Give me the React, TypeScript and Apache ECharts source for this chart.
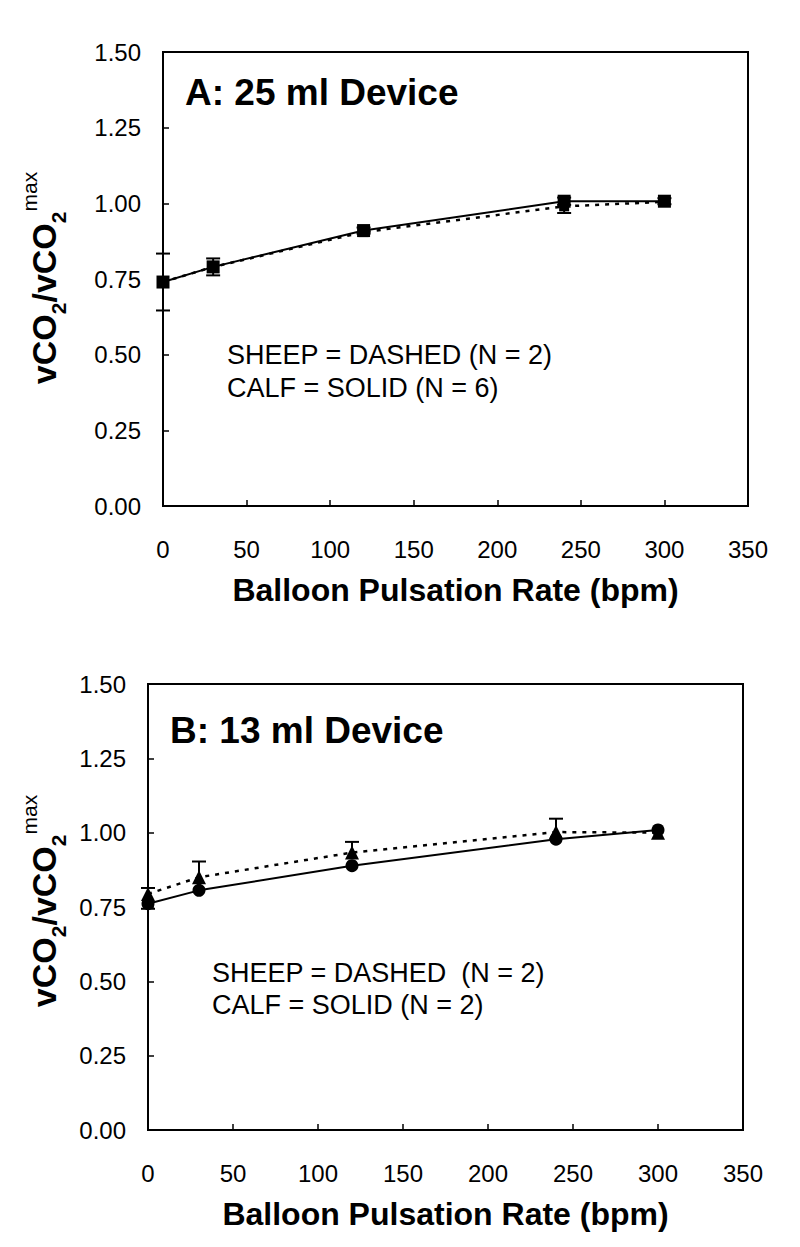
import React, { useEffect, useRef } from "react";
import * as echarts from "echarts";

// ---- data ----
const rates = [0, 30, 120, 240, 300];

// Panel A: 25 ml device
const aCalf = [0.74, 0.79, 0.91, 1.007, 1.007];
const aCalfErrLow = [0.094, 0.028, 0.01, 0.012, 0.01];
const aCalfErrHigh = [0.094, 0.028, 0.01, 0.012, 0.01];
const aSheep = [0.74, 0.79, 0.905, 0.99, 1.005];
const aSheepErrLow = [0, 0, 0, 0.022, 0];
const aSheepErrHigh = [0, 0, 0, 0, 0];

// Panel B: 13 ml device
const bCalf = [0.761, 0.806, 0.889, 0.978, 1.009];
const bCalfErrLow = [0.017, 0, 0, 0, 0];
const bCalfErrHigh = [0, 0, 0, 0, 0];
const bSheep = [0.794, 0.85, 0.933, 1.002, 1.0];
const bSheepErrLow = [0, 0, 0, 0, 0];
const bSheepErrHigh = [0.02, 0.053, 0.036, 0.045, 0];

const xMin = 0, xMax = 350, xStep = 50;
const yMin = 0, yMax = 1.5, yStep = 0.25;

const FONT = "'Liberation Sans', Arial, sans-serif";

function pairs(ys: number[]) {
  return rates.map((x, i) => [x, ys[i]]);
}
function errData(ys: number[], lo: number[], hi: number[]) {
  const out: number[][] = [];
  rates.forEach((x, i) => {
    if (lo[i] > 0 || hi[i] > 0) out.push([x, ys[i], ys[i] - lo[i], ys[i] + hi[i]]);
  });
  return out;
}

function errSeries(data: number[][], idx: number) {
  return {
    type: "custom",
    xAxisIndex: idx,
    yAxisIndex: idx,
    data,
    encode: { x: 0, y: 1 },
    z: 3,
    renderItem: (params: any, api: any) => {
      const x = api.value(0), y = api.value(1), lo = api.value(2), hi = api.value(3);
      const pLo = api.coord([x, lo]);
      const pHi = api.coord([x, hi]);
      const cap = 7;
      const st = { stroke: "#000", lineWidth: 2 };
      const children: any[] = [
        { type: "line", shape: { x1: pLo[0], y1: pLo[1], x2: pHi[0], y2: pHi[1] }, style: st },
      ];
      if (hi > y) children.push({ type: "line", shape: { x1: pHi[0] - cap, y1: pHi[1], x2: pHi[0] + cap, y2: pHi[1] }, style: st });
      if (lo < y) children.push({ type: "line", shape: { x1: pLo[0] - cap, y1: pLo[1], x2: pLo[0] + cap, y2: pLo[1] }, style: st });
      return { type: "group", children };
    },
  };
}

function xAxis(idx: number) {
  return {
    type: "value",
    gridIndex: idx,
    min: xMin,
    max: xMax,
    interval: xStep,
    splitLine: { show: false },
    axisLine: { lineStyle: { color: "#000", width: 2 } },
    axisTick: { inside: true, length: 6, lineStyle: { color: "#000", width: 1.5 } },
    axisLabel: { color: "#000", fontSize: 24, fontFamily: FONT, margin: 31 },
    name: "Balloon Pulsation Rate (bpm)",
    nameLocation: "middle",
    nameGap: 68,
    nameTextStyle: { color: "#000", fontSize: 32, fontWeight: "bold", fontFamily: FONT },
  };
}
function yAxis(idx: number) {
  return {
    type: "value",
    gridIndex: idx,
    min: yMin,
    max: yMax,
    interval: yStep,
    splitLine: { show: false },
    axisLine: { lineStyle: { color: "#000", width: 2 } },
    axisTick: { inside: true, length: 6, lineStyle: { color: "#000", width: 1.5 } },
    axisLabel: { color: "#000", fontSize: 24, fontFamily: FONT, margin: 22, formatter: (v: number) => v.toFixed(2) },
  };
}

function yTitle(x: number, y: number) {
  return {
    type: "text",
    x,
    y,
    rotation: Math.PI / 2,
    style: {
      text: "{m|vCO}{s|2}{m|/vCO}{s|2}{p|max}",
      align: "center",
      verticalAlign: "middle",
      fill: "#000",
      rich: {
        m: { fontSize: 34, fontWeight: "bold", fontFamily: FONT, lineHeight: 50, verticalAlign: "middle", fill: "#000" },
        s: { fontSize: 21, fontWeight: "bold", fontFamily: FONT, lineHeight: 21, verticalAlign: "bottom", fill: "#000" },
        p: { fontSize: 21, fontFamily: FONT, lineHeight: 21, verticalAlign: "top", fill: "#000" },
      },
    },
  };
}

function label(text: string, x: number, y: number, size: number, bold: boolean) {
  return {
    type: "text",
    x,
    y,
    style: { text, fill: "#000", fontSize: size, fontWeight: bold ? "bold" : "normal", fontFamily: FONT, verticalAlign: "middle" },
  };
}

export default function App() {
  const ref = useRef<HTMLDivElement>(null);
  useEffect(() => {
    document.body.style.margin = "0";
    const chart = echarts.init(ref.current!, null, { renderer: "svg" });
    const solid = { color: "#000", width: 2, type: "solid" };
    const dashed = { color: "#000", width: 2.5, type: [4, 6] };
    chart.setOption({
      animation: false,
      backgroundColor: "#fff",
      grid: [
        { left: 163, top: 52, width: 585, height: 454, show: true, borderColor: "#000", borderWidth: 2, backgroundColor: "transparent" },
        { left: 148, top: 684, width: 595, height: 446, show: true, borderColor: "#000", borderWidth: 2, backgroundColor: "transparent" },
      ],
      xAxis: [xAxis(0), xAxis(1)],
      yAxis: [yAxis(0), yAxis(1)],
      series: [
        { type: "line", xAxisIndex: 0, yAxisIndex: 0, data: pairs(aSheep), lineStyle: dashed, symbol: "rect", symbolSize: 10, itemStyle: { color: "#000" }, z: 2 },
        errSeries(errData(aSheep, aSheepErrLow, aSheepErrHigh), 0),
        { type: "line", xAxisIndex: 0, yAxisIndex: 0, data: pairs(aCalf), lineStyle: solid, symbol: "rect", symbolSize: 13, itemStyle: { color: "#000" }, z: 4 },
        errSeries(errData(aCalf, aCalfErrLow, aCalfErrHigh), 0),
        { type: "line", xAxisIndex: 1, yAxisIndex: 1, data: pairs(bSheep), lineStyle: dashed, symbol: "triangle", symbolSize: 14, itemStyle: { color: "#000" }, z: 2 },
        errSeries(errData(bSheep, bSheepErrLow, bSheepErrHigh), 1),
        { type: "line", xAxisIndex: 1, yAxisIndex: 1, data: pairs(bCalf), lineStyle: solid, symbol: "circle", symbolSize: 13, itemStyle: { color: "#000" }, z: 4 },
        errSeries(errData(bCalf, bCalfErrLow, bCalfErrHigh), 1),
      ],
      graphic: [
        yTitle(44, 278),
        yTitle(44, 901),
        label("A: 25 ml Device", 185, 92, 37, true),
        label("SHEEP = DASHED (N = 2)", 227, 355, 27, false),
        label("CALF = SOLID (N = 6)", 227, 388, 27, false),
        label("B: 13 ml Device", 170, 730, 37, true),
        label("SHEEP = DASHED  (N = 2)", 212, 973, 27, false),
        label("CALF = SOLID (N = 2)", 212, 1005, 27, false),
      ],
    });
    return () => chart.dispose();
  }, []);
  return <div ref={ref} style={{ width: 800, height: 1247 }} />;
}
